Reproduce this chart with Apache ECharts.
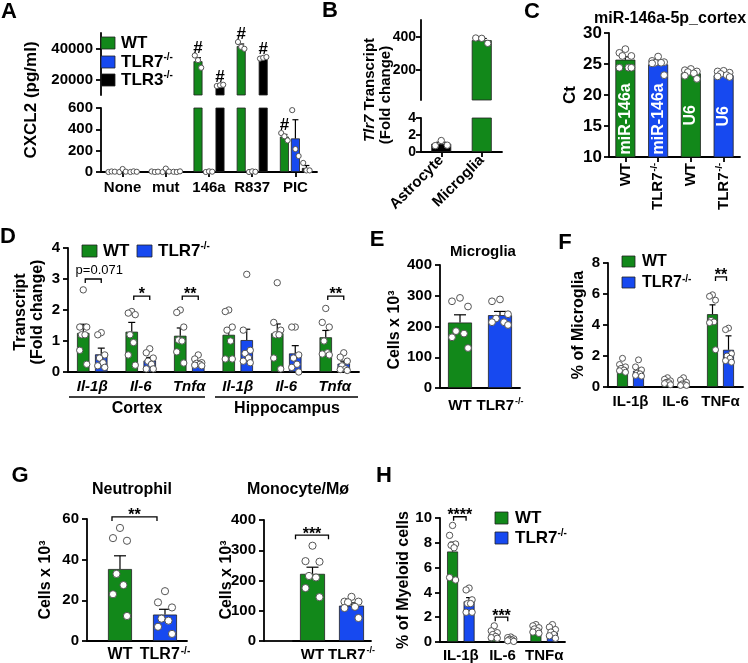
<!DOCTYPE html>
<html><head><meta charset="utf-8">
<script src="https://cdn.jsdelivr.net/npm/echarts@6/dist/echarts.min.js"></script>
<style>html,body{margin:0;padding:0;background:#fff}#c{width:748px;height:663px}</style>
</head><body><div id="c"></div>
<script>
const FF = "'Liberation Sans', Arial, Helvetica, sans-serif";
const GREEN = '#12881a', BLUE = '#1749f0', BLACK = '#000000';

// ---------- Panel A ----------
const A_cats = ['None','mut','146a','R837','PIC'];
const A_wt_mean = [3, 3, 31800, 41600, 332];
const A_wt_sem = [2, 2, 2300, 1300, 20];
const A_wt_pts = [[0,5,3],[5,0,3],[35500,32500,27600],[44200,41000,39800],[365,335,296]];
const A_ko7_mean = [10, 12, 3, 3, 315];
const A_ko7_sem = [10, 12, 3, 3, 175];
const A_ko7_pts = [[0,28,3],[0,32,4],[0,6,3],[0,6,2],[580,215,150]];
const A_ko3_mean = [3, 3, 16200, 34000, 38];
const A_ko3_sem = [2, 2, 250, 350, 23];
const A_ko3_pts = [[0,6,2],[2,0,6],[15800,16300,16600],[33500,34000,34500],[85,15,15]];
const A_hash_wt = [0,0,1,1,1];
const A_hash_ko3 = [0,0,1,1,0];
const A_upper_ticks = [20000, 40000];

// ---------- Panel B ----------
const B_cats = ['Astrocyte','Microglia'];
const B_mean = [0.97, 379];
const B_sem = [0.18, 10];
const B_pts = [[0.75,1.35,0.8],[392,390,360]];
const B_upper_ticks = [200, 400];

// ---------- Panel C ----------
const C_cats = ['WT','TLR7-/-','WT','TLR7-/-'];
const C_inner = ['miR-146a','miR-146a','U6','U6'];
const C_mean = [25.7, 24.95, 23.5, 23.2];
const C_sem = [0.45, 0.35, 0.2, 0.15];
const C_pts = [[27.4,26.8,26.3,26.3,24.4,24.4,24.4],[26.2,25.5,25.3,25.2,25.2,25.1,23.2],[24.2,24.0,23.8,23.7,23.5,23.1,22.6],[23.9,23.8,23.6,23.4,23.2,23.0,22.9]];

// ---------- Panel D ----------
const D_cats = ['Il-1β','Il-6','Tnfα','Il-1β','Il-6','Tnfα'];
const D_regions = ['Cortex','Hippocampus'];
const D_wt_mean = [1.26, 1.3, 1.17, 1.2, 1.25, 1.12];
const D_wt_sem = [0.28, 0.3, 0.25, 0.22, 0.3, 0.22];
const D_wt_pts = [[2.65,1.45,1.45,1.2,1.2,0.7,0.25],[1.95,1.9,1.85,1.2,0.95,0.55,0.22],[2.0,1.92,1.45,1.03,1.0,0.65,0.29],[2.0,1.95,1.45,1.35,1.0,0.42,0.42],[2.88,1.6,1.35,1.2,1.2,0.45,0.1],[2.05,1.6,1.45,1.0,0.62,0.58,0.55]];
const D_ko_mean = [0.57, 0.37, 0.3, 1.03, 0.6, 0.27];
const D_ko_sem = [0.2, 0.1, 0.05, 0.35, 0.25, 0.08];
const D_ko_pts = [[1.27,1.2,0.55,0.45,0.3,0.2,0.15],[0.75,0.62,0.45,0.35,0.25,0.1,0.1],[0.55,0.42,0.3,0.28,0.25,0.22,0.2],[3.15,1.35,0.7,0.6,0.45,0.35,0.3],[1.45,1.45,0.55,0.45,0.25,0.15,0.0],[0.62,0.48,0.35,0.2,0.1,0.08,0.05]];
const D_sig_cat = [0, 1, 2, 5];
const D_sig_y = [3.0, 2.45, 2.45, 2.45];
const D_sig_txt = ['p=0.071', '*', '**', '**'];

// ---------- Panel E ----------
const E_cats = ['WT','TLR7-/-'];
const E_mean = [213, 237];
const E_sem = [25, 12];
const E_pts = [[293,282,265,185,177,165,130],[288,282,240,226,214,214,205]];

// ---------- Panel F ----------
const F_cats = ['IL-1β','IL-6','TNFα'];
const F_wt_mean = [1.25, 0.35, 4.7];
const F_wt_sem = [0.12, 0.06, 0.6];
const F_wt_pts = [[1.85,1.45,1.3,1.2,1.1,1.05,0.95],[0.6,0.5,0.4,0.3,0.28,0.22,0.15],[5.95,5.85,5.6,4.3,4.2,4.15,2.4]];
const F_ko_mean = [1.05, 0.27, 2.4];
const F_ko_sem = [0.15, 0.08, 0.9];
const F_ko_pts = [[1.75,1.3,1.1,0.9,0.85,0.75,0.7],[0.6,0.45,0.3,0.2,0.15,0.1,0.1],[3.8,3.7,2.15,2.0,1.85,1.7,1.6]];
const F_sig_cat = [2];
const F_sig_y = [7.1];
const F_sig_txt = ['**'];

// ---------- Panel G ----------
const G_cats = ['WT','TLR7-/-'];
const G_neu_mean = [35.4, 13];
const G_neu_sem = [6.5, 2.6];
const G_neu_pts = [[55.6,50.6,49.3,33,27.5,23,12.3],[24.5,19,16.5,11,10,7,3.5]];
const G_neu_sig = {y: 61, txt: '**'};
const G_mono_mean = [222, 117];
const G_mono_sem = [22, 9];
const G_mono_pts = [[315,264,262,215,210,175,145],[146,130,130,128,113,109,76]];
const G_mono_sig = {y: 350, txt: '***'};

// ---------- Panel H ----------
const H_cats = ['IL-1β','IL-6','TNFα'];
const H_wt_mean = [7.3, 0.68, 1.02];
const H_wt_sem = [0.75, 0.15, 0.1];
const H_wt_pts = [[9.4,8.6,7.9,7.8,7.6,5.2,5.0],[1.3,0.9,0.75,0.6,0.45,0.35,0.3],[1.4,1.3,1.15,1.05,0.9,0.8,0.7]];
const H_ko_mean = [3.28, 0.2, 0.75];
const H_ko_sem = [0.3, 0.05, 0.15];
const H_ko_pts = [[4.35,4.2,3.4,3.1,3.1,2.4,2.4],[0.4,0.35,0.25,0.2,0.15,0.1,0.05],[1.4,1.2,1.0,0.8,0.6,0.5,0.3]];
const H_sig_cat = [0, 1];
const H_sig_y = [10.1, 2.0];
const H_sig_txt = ['****', '***'];

// ================= builders =================
const option = {animation:false, backgroundColor:'#fff', grid:[], xAxis:[], yAxis:[], series:[], graphic:[]};
const JIT7 = [0,-1,1,-0.5,0.5,-1,1];
const JIT3 = [-1,0,1];

function supFmt(v){
  v = String(v);
  if (v.indexOf('-/-') >= 0) return '{n|' + v.replace('-/-','') + '}{s|-/-}';
  return '{n|' + v + '}';
}
function richFor(fs, italic){
  return {
    n:{fontFamily:FF, fontWeight:'bold', fontSize:fs, color:'#000', fontStyle: italic?'italic':'normal', lineHeight: fs+2},
    s:{fontFamily:FF, fontWeight:'bold', fontSize:Math.round(fs*0.6), color:'#000', verticalAlign:'top', lineHeight: fs+2, padding:[0,0,0,1]}
  };
}
function addGrid(g){ g.outerBoundsMode = 'none'; g.containLabel = false; option.grid.push(g); return option.grid.length-1; }
function valY(gi, o){
  const ax = {type:'value', gridIndex:gi, min:o.min, max:o.max, offset:o.offset||0,
    axisLine:{show:true, onZero:false, lineStyle:{color:'#000', width:1.8}},
    axisTick:{show:true, length:5, lineStyle:{color:'#000', width:1.8}},
    splitLine:{show:false},
    axisLabel:{color:'#000', fontFamily:FF, fontWeight:'bold', fontSize:o.fs||15, margin:o.margin||8, formatter:(v)=>String(v)}};
  if (o.interval) ax.interval = o.interval;
  if (o.custom){ ax.axisLabel.customValues = o.custom; ax.axisTick.customValues = o.custom; }
  option.yAxis.push(ax); return option.yAxis.length-1;
}
function catX(gi, cats, o){
  const fs = o.fs||15;
  const ax = {type:'category', gridIndex:gi, data:cats, show: o.show!==false,
    axisLine:{show:true, onZero:false, lineStyle:{color:'#000', width:1.8}},
    axisTick:{show:!!o.tick, alignWithLabel:true, length:5, lineStyle:{color:'#000', width:1.8}},
    axisLabel:{color:'#000', fontFamily:FF, fontWeight:'bold', fontSize:fs, margin:o.margin||6, interval:0, rotate:o.rotate||0,
      hideOverlap:false, formatter: supFmt, rich: richFor(fs, o.italic)}};
  option.xAxis.push(ax); return option.xAxis.length-1;
}
function valX(gi, cats, o){
  const fs = o.fs||15;
  const ticks = cats.map((c,i)=>i);
  const ax = {type:'value', gridIndex:gi, min:o.min, max:o.max,
    axisLine:{show:true, onZero:false, lineStyle:{color:'#000', width:1.8}},
    axisTick:{show:false}, splitLine:{show:false},
    axisLabel:{customValues:ticks, showMinLabel:true, showMaxLabel:true, hideOverlap:false,
      color:'#000', fontFamily:FF, fontWeight:'bold', fontSize:fs, margin:o.margin||6,
      formatter:(v)=>supFmt(cats[Math.round(v)]), rich: richFor(fs)}};
  option.xAxis.push(ax); return option.xAxis.length-1;
}
function bars(xi, yi, data, color, w, gap){
  option.series.push({type:'bar', xAxisIndex:xi, yAxisIndex:yi, data, barWidth:w, barGap:gap, silent:true, z:2, clip:true,
    itemStyle:{color, borderColor:'#222', borderWidth:0.8}});
  return option.series[option.series.length-1];
}
function errBars(xi, yi, means, sems, off, capW, keep){
  const data = [];
  means.forEach((m,i)=>{ if (m == null) return; if (keep && !keep(m)) return; data.push([i, m, m + sems[i]]); });
  option.series.push({type:'custom', xAxisIndex:xi, yAxisIndex:yi, data, silent:true, z:3,
    renderItem(params, api){
      const b = api.coord([api.value(0), api.value(1)]);
      const t = api.coord([api.value(0), api.value(2)]);
      const x = b[0] + off;
      return {type:'group', children:[
        {type:'line', shape:{x1:x, y1:b[1], x2:x, y2:t[1]}, style:{stroke:'#000', lineWidth:1.2}},
        {type:'line', shape:{x1:x-capW/2, y1:t[1], x2:x+capW/2, y2:t[1]}, style:{stroke:'#000', lineWidth:1.2}}
      ]};
    }});
}
function dots(xi, yi, pts, off, spread, r, jit, keep){
  const data = [];
  pts.forEach((arr,i)=>arr.forEach((v,k)=>{ if (keep && !keep(v)) return; data.push([i, v, k]); }));
  option.series.push({type:'custom', xAxisIndex:xi, yAxisIndex:yi, data, silent:true, z:4,
    renderItem(params, api){
      const p = api.coord([api.value(0), api.value(1)]);
      const k = api.value(2);
      const j = jit[k % jit.length] * spread;
      return {type:'circle', shape:{cx:p[0]+off+j, cy:p[1], r}, style:{fill:'#fff', stroke:'#555', lineWidth:1}};
    }});
}
function sig(xi, yi, cA, cB, ys, txts, offA, offB, fs){
  const data = cA.map((c,i)=>[c, cB[i], ys[i], i]);
  option.series.push({type:'custom', xAxisIndex:xi, yAxisIndex:yi, data, silent:true, z:5,
    renderItem(params, api){
      const i = api.value(3);
      const p1 = api.coord([api.value(0), api.value(2)]);
      const p2 = api.coord([api.value(1), api.value(2)]);
      const x1 = p1[0] + offA, x2 = p2[0] + offB, y = p1[1];
      const t = txts[i]; const star = t.indexOf('*') >= 0;
      return {type:'group', children:[
        {type:'polyline', shape:{points:[[x1,y+4],[x1,y],[x2,y],[x2,y+4]]}, style:{stroke:'#000', lineWidth:1.3, fill:null}},
        {type:'text', x:(x1+x2)/2 + (star ? 0 : 6), y: star ? y+7 : y-2,
          style:{text:t, fill:'#000', font:(star ? 'bold ' + fs : 13) + 'px ' + FF, align:'center', verticalAlign:'bottom'}}
      ]};
    }});
}
function hashes(xi, yi, means, sems, pts, flags, off, keep){
  const data = [];
  means.forEach((m,i)=>{ if (!flags[i]) return; if (keep && !keep(m)) return; data.push([i, Math.max(m + sems[i], Math.max.apply(null, pts[i]))]); });
  option.series.push({type:'custom', xAxisIndex:xi, yAxisIndex:yi, data, silent:true, z:5,
    renderItem(params, api){
      const p = api.coord([api.value(0), api.value(1)]);
      return {type:'text', x:p[0]+off, y:p[1]+1, style:{text:'#', fill:'#000', font:'bold 17px ' + FF, align:'center', verticalAlign:'bottom'}};
    }});
}
function gText(x, y, text, fs, o){
  o = o || {};
  const el = {type:'text', x, y, rotation: o.rot||0, z:10, silent:true,
    style:{text, fill:'#000', font:(o.italic?'italic ':'') + (o.normal?'':'bold ') + fs + 'px ' + FF, align:o.align||'center', verticalAlign:'middle'}};
  if (o.rich) el.style.rich = o.rich;
  option.graphic.push(el);
}
function gRect(x, y, w, h, color){
  option.graphic.push({type:'rect', x, y, z:10, silent:true, shape:{width:w, height:h}, style:{fill:color, stroke:'#222', lineWidth:0.8}});
}
function gLine(x1, y1, x2, y2, lw){
  option.graphic.push({type:'line', z:10, silent:true, shape:{x1,y1,x2,y2}, style:{stroke:'#000', lineWidth:lw||1.5}});
}
const legRich = (fs)=>({n:{fontFamily:FF, fontWeight:'bold', fontSize:fs, color:'#000', lineHeight:fs+2},
  s:{fontFamily:FF, fontWeight:'bold', fontSize:Math.round(fs*0.6), color:'#000', verticalAlign:'top', lineHeight:fs+2}});

// ================= Panel A =================
(function(){
  const w = 9, step = 11, gap = ((step - w) / w * 100).toFixed(1) + '%';
  const up = (v)=>v > 1000, lo = (v)=>v <= 1000;
  const gU = addGrid({left:101, top:33, width:216, height:62});
  const gL = addGrid({left:101, top:108, width:216, height:64});
  const xU = catX(gU, A_cats, {show:false});
  const xL = catX(gL, A_cats, {tick:true, margin:7, fs:15});
  const yU = valY(gU, {min:10000, max:50000, custom:A_upper_ticks, fs:15, margin:8});
  const yL = valY(gL, {min:0, max:600, interval:200, fs:15, margin:8});
  const groups = [[A_wt_mean, A_wt_sem, A_wt_pts, GREEN], [A_ko7_mean, A_ko7_sem, A_ko7_pts, BLUE], [A_ko3_mean, A_ko3_sem, A_ko3_pts, BLACK]];
  groups.forEach((g)=>{
    bars(xU, yU, g[0].map(v=>up(v)?v:null), g[3], w, gap);
    bars(xL, yL, g[0], g[3], w, gap);
  });
  groups.forEach((g, gi)=>{
    const off = (gi - 1) * step;
    errBars(xU, yU, g[0], g[1], off, 6, up);
    errBars(xL, yL, g[0], g[1], off, 6, lo);
    dots(xU, yU, g[2], off, 3.2, 2.6, JIT3, up);
    dots(xL, yL, g[2], off, 3.2, 2.6, JIT3, lo);
  });
  hashes(xU, yU, A_wt_mean, A_wt_sem, A_wt_pts, A_hash_wt, -step, up);
  hashes(xL, yL, A_wt_mean, A_wt_sem, A_wt_pts, A_hash_wt, -step, lo);
  hashes(xU, yU, A_ko3_mean, A_ko3_sem, A_ko3_pts, A_hash_ko3, step, up);
  gText(9, 12, 'A', 22);
  gText(31, 100, 'CXCL2 (pg/ml)', 17, {rot:Math.PI/2});
  gRect(101, 37, 14, 12, GREEN); gRect(101, 56, 14, 12, BLUE); gRect(101, 74, 14, 12, BLACK);
  gText(121, 43, '{n|WT}', 17, {align:'left', rich:legRich(17)});
  gText(121, 62, '{n|TLR7}{s|-/-}', 17, {align:'left', rich:legRich(17)});
  gText(121, 80, '{n|TLR3}{s|-/-}', 17, {align:'left', rich:legRich(17)});
})();

// ================= Panel B =================
(function(){
  const up = (v)=>v > 10, lo = (v)=>v <= 10;
  const gU = addGrid({left:421, top:20, width:81, height:80});
  const gL = addGrid({left:421, top:118, width:81, height:34});
  const xU = catX(gU, B_cats, {show:false});
  const xL = catX(gL, B_cats, {tick:true, rotate:45, margin:6, fs:15});
  const yU = valY(gU, {min:20, max:500, custom:B_upper_ticks, fs:14, margin:5});
  const yL = valY(gL, {min:0, max:4, interval:2, fs:14, margin:5});
  const cols = [BLACK, GREEN];
  bars(xU, yU, B_mean.map((v,i)=>up(v)?{value:v, itemStyle:{color:cols[i]}}:null), GREEN, 20, '0%');
  bars(xL, yL, B_mean.map((v,i)=>({value:v, itemStyle:{color:cols[i]}})), GREEN, 20, '0%');
  errBars(xU, yU, B_mean, B_sem, 0, 10, up);
  errBars(xL, yL, B_mean, B_sem, 0, 10, lo);
  dots(xU, yU, B_pts, 0, 6, 3.2, JIT3, up);
  dots(xL, yL, B_pts, 0, 6, 3.2, JIT3, lo);
  gText(330, 11, 'B', 22);
  gText(370, 90, '{i|Tlr7}{b| Transcript}', 15, {rot:Math.PI/2, rich:{i:{fontFamily:FF, fontWeight:'bold', fontStyle:'italic', fontSize:15, color:'#000'}, b:{fontFamily:FF, fontWeight:'bold', fontSize:15, color:'#000'}}});
  gText(386, 95, '(Fold change)', 15, {rot:Math.PI/2});
})();

// ================= Panel C =================
(function(){
  const g = addGrid({left:609, top:33, width:131, height:124});
  const x = catX(g, C_cats, {tick:true, rotate:90, margin:6, fs:15});
  const y = valY(g, {min:10, max:30, interval:5, fs:17, margin:7});
  const cols = [GREEN, BLUE, GREEN, BLUE];
  bars(x, y, C_mean.map((v,i)=>({value:v, itemStyle:{color:cols[i]},
    label:{show:true, formatter:C_inner[i], rotate:90, color:'#fff', fontFamily:FF, fontWeight:'bold', fontSize:16,
      position: C_inner[i].length > 3 ? 'insideBottom' : 'inside', distance:3,
      align: C_inner[i].length > 3 ? 'left' : 'center', verticalAlign:'middle'}})), GREEN, 20, '0%');
  errBars(x, y, C_mean, C_sem, 0, 10);
  dots(x, y, C_pts, 0, 6, 3.4, JIT7);
  gText(532, 12, 'C', 22);
  gText(670, 19, 'miR-146a-5p_cortex', 16);
  gText(570, 95, 'Ct', 17, {rot:Math.PI/2});
})();

// ================= Panel D =================
(function(){
  const w = 12.5, step = 18, gap = ((step - w) / w * 100).toFixed(1) + '%';
  const g = addGrid({left:68, top:248, width:291, height:124});
  const x = catX(g, D_cats, {tick:false, margin:6, fs:15, italic:true});
  const y = valY(g, {min:0, max:4, interval:1, fs:15, margin:8});
  bars(x, y, D_wt_mean, GREEN, w, gap);
  bars(x, y, D_ko_mean, BLUE, w, gap);
  errBars(x, y, D_wt_mean, D_wt_sem, -step/2, 7);
  errBars(x, y, D_ko_mean, D_ko_sem, step/2, 7);
  dots(x, y, D_wt_pts, -step/2, 3.5, 3.2, JIT7);
  dots(x, y, D_ko_pts, step/2, 3.5, 3.2, JIT7);
  sig(x, y, D_sig_cat, D_sig_cat, D_sig_y, D_sig_txt, -step/2+2, step/2, 16);
  gText(8, 237, 'D', 22);
  gText(21, 312, 'Transcript', 16, {rot:Math.PI/2});
  gText(38, 312, '(Fold change)', 16, {rot:Math.PI/2});
  gRect(82, 245, 15, 12, GREEN); gRect(137, 245, 15, 12, BLUE);
  gText(103, 251, '{n|WT}', 17, {align:'left', rich:legRich(17)});
  gText(158, 251, '{n|TLR7}{s|-/-}', 17, {align:'left', rich:legRich(17)});
  gLine(69, 397, 205, 397); gLine(215, 397, 358, 397);
  gText(137, 409, D_regions[0], 16); gText(287, 409, D_regions[1], 16);
})();

// ================= Panel E =================
(function(){
  const g = addGrid({left:440, top:265, width:80, height:123});
  const x = catX(g, E_cats, {tick:false, margin:9, fs:15});
  const y = valY(g, {min:0, max:400, interval:100, fs:15, margin:8});
  const cols = [GREEN, BLUE];
  bars(x, y, E_mean.map((v,i)=>({value:v, itemStyle:{color:cols[i]}})), GREEN, 24, '0%');
  errBars(x, y, E_mean, E_sem, 0, 12);
  dots(x, y, E_pts, 0, 8, 3.4, JIT7);
  gText(377, 240, 'E', 22);
  gText(483, 252, 'Microglia', 15);
  gText(395, 330, 'Cells x 10³', 16, {rot:Math.PI/2});
})();

// ================= Panel F =================
(function(){
  const w = 11, step = 16, gap = ((step - w) / w * 100).toFixed(1) + '%';
  const g = addGrid({left:608, top:263, width:135, height:124});
  const x = catX(g, F_cats, {tick:false, margin:6, fs:15});
  const y = valY(g, {min:0, max:8, interval:2, fs:15, margin:8});
  bars(x, y, F_wt_mean, GREEN, w, gap);
  bars(x, y, F_ko_mean, BLUE, w, gap);
  errBars(x, y, F_wt_mean, F_wt_sem, -step/2, 6);
  errBars(x, y, F_ko_mean, F_ko_sem, step/2, 6);
  dots(x, y, F_wt_pts, -step/2, 3, 3, JIT7);
  dots(x, y, F_ko_pts, step/2, 3, 3, JIT7);
  sig(x, y, F_sig_cat, F_sig_cat, F_sig_y, F_sig_txt, -step/2+3, step/2-2, 16);
  gText(565, 243, 'F', 22);
  gText(579, 325, '% of Microglia', 16, {rot:Math.PI/2});
  gRect(622, 256, 13, 11, GREEN); gRect(622, 277, 13, 11, BLUE);
  gText(642, 262, '{n|WT}', 16, {align:'left', rich:legRich(16)});
  gText(642, 283, '{n|TLR7}{s|-/-}', 16, {align:'left', rich:legRich(16)});
})();

// ================= Panel G =================
(function(){
  const g1 = addGrid({left:87, top:519, width:100, height:122});
  const x1 = valX(g1, G_cats, {min:-0.733, max:1.489, margin:5, fs:16});
  const y1 = valY(g1, {min:0, max:60, interval:20, fs:15, margin:8});
  const cols = [GREEN, BLUE];
  bars(x1, y1, G_neu_mean.map((v,i)=>({value:[i, v], itemStyle:{color:cols[i]}})), GREEN, 24, '0%');
  errBars(x1, y1, G_neu_mean, G_neu_sem, 0, 12);
  dots(x1, y1, G_neu_pts, 0, 7, 3.6, JIT7);
  sig(x1, y1, [0], [1], [G_neu_sig.y], [G_neu_sig.txt], -8, -8, 16);

  // Monocyte panel: category axis, y axis pushed left to the frame edge
  const g2 = addGrid({left:293, top:520, width:78, height:121});
  const x2 = catX(g2, G_cats, {tick:false, margin:5, fs:15});
  const y2 = valY(g2, {min:0, max:400, interval:100, fs:15, margin:8, offset:29});
  bars(x2, y2, G_mono_mean.map((v,i)=>({value:v, itemStyle:{color:cols[i]}})), GREEN, 25, '0%');
  errBars(x2, y2, G_mono_mean, G_mono_sem, 0, 12);
  dots(x2, y2, G_mono_pts, 0, 7, 3.6, JIT7);
  sig(x2, y2, [0], [1], [G_mono_sig.y], [G_mono_sig.txt], -17, -23, 16);
  gLine(264, 641, 294, 641, 1.8);

  gText(20, 476, 'G', 22);
  gText(132, 490, 'Neutrophil', 16);
  gText(298, 490, 'Monocyte/Mø', 16);
  gText(46, 580, 'Cells x 10³', 16, {rot:Math.PI/2});
  gText(227, 580, 'Cells x 10³', 16, {rot:Math.PI/2});
})();

// ================= Panel H =================
(function(){
  const w = 11, step = 16.5, gap = ((step - w) / w * 100).toFixed(1) + '%';
  const g = addGrid({left:440, top:518, width:125, height:124});
  const x = catX(g, H_cats, {tick:false, margin:5, fs:15});
  const y = valY(g, {min:0, max:10, interval:2, fs:15, margin:8});
  bars(x, y, H_wt_mean, GREEN, w, gap);
  bars(x, y, H_ko_mean, BLUE, w, gap);
  errBars(x, y, H_wt_mean, H_wt_sem, -step/2, 6);
  errBars(x, y, H_ko_mean, H_ko_sem, step/2, 6);
  dots(x, y, H_wt_pts, -step/2, 3, 3.2, JIT7);
  dots(x, y, H_ko_pts, step/2, 3, 3.2, JIT7);
  sig(x, y, H_sig_cat, H_sig_cat, H_sig_y, H_sig_txt, -step/2+1, step/2-3, 16);
  gText(384, 476, 'H', 22);
  gText(404, 580, '% of Myeloid cells', 16, {rot:Math.PI/2});
  gRect(495, 512, 13, 12, GREEN); gRect(495, 532, 13, 12, BLUE);
  gText(515, 518, '{n|WT}', 17, {align:'left', rich:legRich(17)});
  gText(515, 538, '{n|TLR7}{s|-/-}', 17, {align:'left', rich:legRich(17)});
})();

const chart = echarts.init(document.getElementById('c'), null, {renderer:'canvas'});
chart.setOption(option);
</script>
</body></html>
